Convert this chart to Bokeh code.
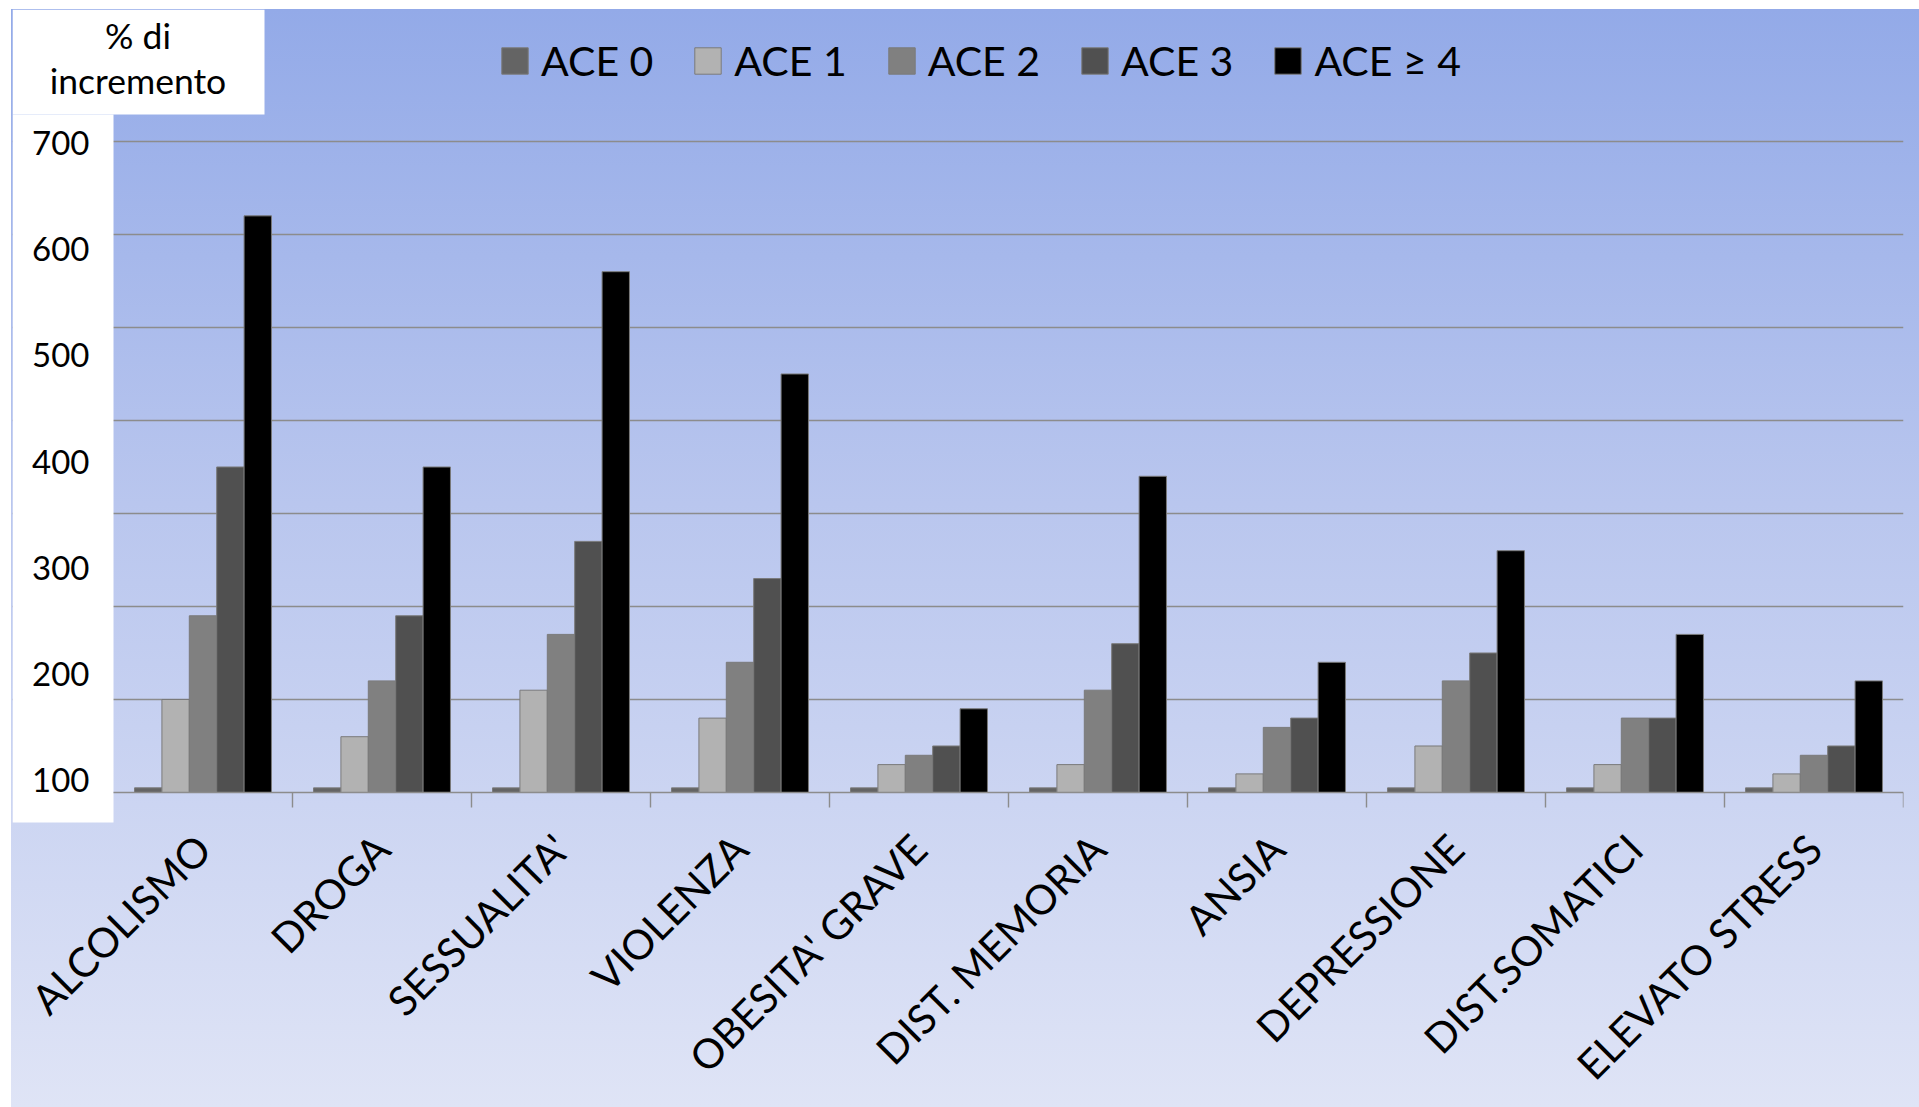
import math
from bokeh.plotting import figure
from bokeh.models import Range1d, LinearAxis, FixedTicker, Label, ColumnDataSource, BoxAnnotation
from bokeh.transform import dodge
from bokeh.embed import file_html
from bokeh.resources import INLINE

# ---- data ----
categories = ["ALCOLISMO", "DROGA", "SESSUALITA'", "VIOLENZA", "OBESITA' GRAVE",
              "DIST. MEMORIA", "ANSIA", "DEPRESSIONE", "DIST.SOMATICI", "ELEVATO STRESS"]
series_names = ["ACE 0", "ACE 1", "ACE 2", "ACE 3", "ACE \u2265 4"]
ace0 = [5, 5, 5, 5, 5, 5, 5, 5, 5, 5]
ace1 = [100, 60, 110, 80, 30, 30, 20, 50, 30, 20]
ace2 = [190, 120, 170, 140, 40, 110, 70, 120, 80, 40]
ace3 = [350, 190, 270, 230, 50, 160, 80, 150, 80, 50]
ace4 = [620, 350, 560, 450, 90, 340, 140, 260, 170, 120]
grid_values = [100, 200, 300, 400, 500, 600, 700]
y_tick_labels = [100, 200, 300, 400, 500, 600, 700]
colors = ["#646464", "#b2b2b2", "#808080", "#505050", "#000000"]

FONT = "Lato"

idx = list(range(len(categories)))
src = ColumnDataSource(dict(x=idx, a0=ace0, a1=ace1, a2=ace2, a3=ace3, a4=ace4))

# frame covers (12..1903) x (9..1107); value 0 sits at y=792px, 700 at y=141px
p = figure(width=1919, height=1107, output_backend="svg", toolbar_location=None,
           x_range=Range1d(-0.5 - 101 / 179.0, len(categories) - 0.5), y_range=Range1d(-338.7, 841.9),
           y_axis_location=None, x_axis_location=None,
           min_border_left=12, min_border_right=16, min_border_top=9, min_border_bottom=0)
p.border_fill_color = None
p.background_fill_color = None
p.outline_line_color = None
p.styles = {
    "background": (
        "linear-gradient(to bottom, #93aae8 0%, #b9c6ee 45%, #dfe4f6 100%) 11px 9px / 1908px 1098px no-repeat, "
        "#ffffff"
    )
}

# grid
p.xgrid.visible = False
p.ygrid.ticker = FixedTicker(ticks=grid_values)
p.ygrid.grid_line_color = "#8c8c8c"
p.ygrid.grid_line_width = 1.4

# white panels (on top of the grid, below everything else)
p.add_layout(BoxAnnotation(right=0.3436, bottom=729.0, fill_color="#ffffff", fill_alpha=1,
                           line_alpha=0, level="underlay"))
p.add_layout(BoxAnnotation(right=-0.5, top=729.0, bottom=-32.3, fill_color="#ffffff", fill_alpha=1,
                           line_alpha=0, level="underlay"))

# bars
bw = 0.153
cols = ["a0", "a1", "a2", "a3", "a4"]
for k, (c, name, col) in enumerate(zip(cols, series_names, colors)):
    p.vbar(x=dodge("x", (k - 2) * bw, range=p.x_range), top=c, width=bw, bottom=0,
           source=src, fill_color=col, line_color="#7a7a7a", line_width=1,
           legend_label=name)

# x axis at value 0: labels at centres, short ticks at category boundaries
xaxis = LinearAxis(
    fixed_location=0,
    bounds=(-0.5, len(categories) - 0.5),
    ticker=FixedTicker(ticks=idx, minor_ticks=[i + 0.5 for i in range(len(categories))]),
    major_label_overrides={i: c for i, c in zip(idx, categories)},
    major_label_orientation=math.pi / 4,
    major_tick_out=0, major_tick_in=0,
    minor_tick_out=15, minor_tick_in=0,
    minor_tick_line_color="#8c8c8c", minor_tick_line_width=1.4,
    axis_line_color="#8c8c8c", axis_line_width=1.4,
    major_label_standoff=34,
    major_label_text_font=FONT, major_label_text_font_size="41px",
    major_label_text_color="#000000",
)
p.add_layout(xaxis, "below")

# y axis labels (separate scale of the tick-label column)
p.extra_y_ranges = {"lab": Range1d(-207.8, 825.6)}
yaxis = LinearAxis(
    y_range_name="lab",
    fixed_location=-0.5,
    ticker=FixedTicker(ticks=y_tick_labels),
    major_tick_out=0, major_tick_in=0, minor_tick_out=0, minor_tick_in=0,
    axis_line_color=None,
    major_label_standoff=24,
    major_label_text_font=FONT, major_label_text_font_size="33px",
    major_label_text_color="#000000",
)
p.add_layout(yaxis, "left")

# legend
lg = p.legend[0]
lg.orientation = "horizontal"
lg.location = (486, 1022)
lg.background_fill_alpha = 0
lg.border_line_alpha = 0
lg.padding = 0
lg.margin = 0
lg.spacing = 38
lg.label_standoff = 10
lg.glyph_width = 33
lg.glyph_height = 33
lg.label_height = 33
lg.label_text_font = FONT
lg.label_text_font_size = "41px"
lg.label_text_color = "#000000"

# "% di incremento"
for txt, yy in (("% di", 1072), ("incremento", 1027)):
    p.add_layout(Label(x=125.5, y=yy, x_units="screen", y_units="screen", text=txt,
                       text_align="center", text_baseline="middle",
                       text_font=FONT, text_font_size="35.5px", text_color="#000000"))

open("out.html", "w").write(file_html(p, INLINE))
